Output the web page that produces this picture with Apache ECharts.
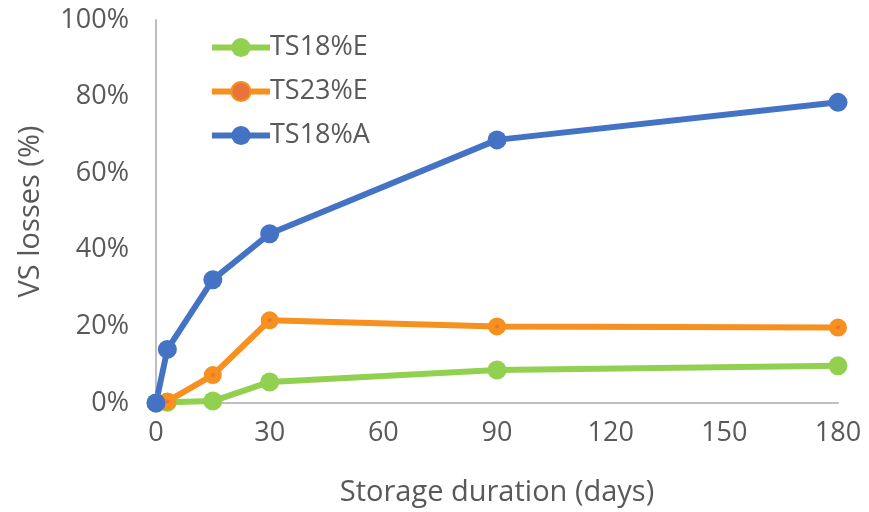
<!DOCTYPE html>
<html>
<head>
<meta charset="utf-8">
<script src="https://cdn.jsdelivr.net/npm/echarts@6/dist/echarts.min.js"></script>
<style>
  html, body { margin: 0; padding: 0; background: #fff; }
  #chart { width: 869px; height: 512px; }
</style>
</head>
<body>
<div id="chart"></div>
<script>
// Storage days sampled for every series
const days = [0, 3, 15, 30, 90, 180];
// Volatile-solids losses (%) per treatment
const ts18E = [0, 0.2, 0.5, 5.5, 8.6, 9.7];
const ts23E = [0, 0.4, 7.3, 21.6, 20.0, 19.7];
const ts18A = [0, 14.0, 32.2, 44.2, 68.7, 78.5];
const seriesNames = ['TS18%E', 'TS23%E', 'TS18%A'];
const xTicks = { min: 0, max: 180, step: 30 };
const yTicks = { min: 0, max: 100, step: 20 };

const FONT = '"Open Sans", Lato, sans-serif';
const TEXT = '#595959';
const FS = 27;
const TITLE_FS = 29;

function pairs(vals) { return days.map((d, i) => [d, vals[i]]); }

const chart = echarts.init(document.getElementById('chart'), null, { renderer: 'canvas' });

function lineSeries(name, vals, color, extra) {
  return Object.assign({
    name: name,
    type: 'line',
    data: pairs(vals),
    symbol: 'circle',
    symbolSize: 19,
    lineStyle: { color: color, width: 6 },
    itemStyle: { color: color },
    emphasis: { disabled: true },
    animation: false
  }, extra || {});
}

chart.setOption({
  backgroundColor: '#fff',
  textStyle: { fontFamily: FONT },
  grid: { left: 156, right: 31, top: 20, bottom: 107, containLabel: false },
  legend: {
    orient: 'vertical',
    left: 204,
    top: 29,
    itemWidth: 58,
    itemHeight: 24,
    itemGap: 17,
    lineStyle: { width: 6 },
    textStyle: { color: TEXT, fontSize: FS, fontFamily: FONT, padding: [0, 0, 0, -5] },
    data: seriesNames
  },
  xAxis: {
    type: 'value',
    min: xTicks.min,
    max: xTicks.max,
    interval: xTicks.step,
    name: 'Storage duration (days)',
    nameLocation: 'middle',
    nameGap: 75,
    nameTextStyle: { color: TEXT, fontSize: TITLE_FS, fontFamily: FONT },
    axisLine: { show: true, lineStyle: { color: '#BFBFBF', width: 2 } },
    axisTick: { show: false },
    splitLine: { show: false },
    axisLabel: { color: TEXT, fontSize: FS, margin: 17, fontFamily: FONT }
  },
  yAxis: {
    type: 'value',
    min: yTicks.min,
    max: yTicks.max,
    interval: yTicks.step,
    name: 'VS losses (%)',
    nameLocation: 'middle',
    nameRotate: 90,
    nameGap: 111,
    nameTextStyle: { color: TEXT, fontSize: TITLE_FS, fontFamily: FONT },
    axisLine: { show: true, lineStyle: { color: '#BFBFBF', width: 2 } },
    axisTick: { show: false },
    splitLine: { show: false },
    axisLabel: { color: TEXT, fontSize: FS, margin: 27, fontFamily: FONT, formatter: '{value}%' }
  },
  series: [
    lineSeries(seriesNames[0], ts18E, '#92D050'),
    lineSeries(seriesNames[1], ts23E, '#F7901E', {
      symbolSize: 11,
      itemStyle: { color: '#E8743B', borderColor: '#F7901E', borderWidth: 7 }
    }),
    lineSeries(seriesNames[2], ts18A, '#4472C4')
  ]
});
</script>
</body>
</html>
